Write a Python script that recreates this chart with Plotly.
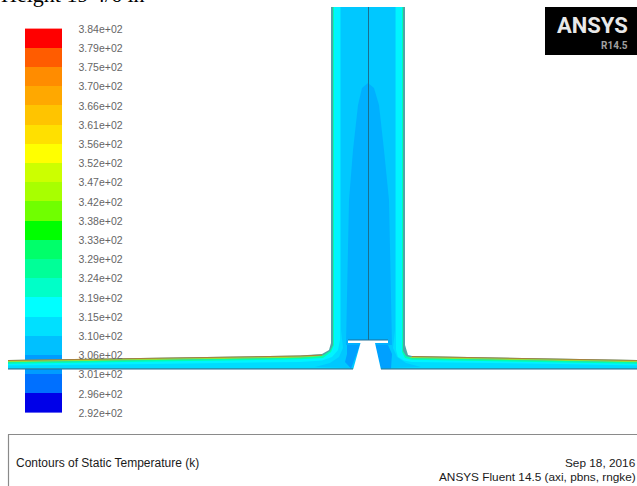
import plotly.graph_objects as go

# Colour legend
tick_labels = ["3.84e+02","3.79e+02","3.75e+02","3.70e+02","3.66e+02","3.61e+02","3.56e+02",
               "3.52e+02","3.47e+02","3.42e+02","3.38e+02","3.33e+02","3.29e+02","3.24e+02",
               "3.19e+02","3.15e+02","3.10e+02","3.06e+02","3.01e+02","2.96e+02","2.92e+02"]
band_colors = ["#ff0000","#ff5c00","#ff8c00","#ffa800","#ffc400","#ffe000","#ffff00","#ccff00",
               "#a8ff00","#70ff00","#00ff00","#00ff6a","#00ff98","#00ffc8","#00ffff","#00e0ff",
               "#00c0ff","#009cff","#0070ff","#0000e8"]
band_index = list(range(20))
band_edges = [28.6 + 19.2 * i for i in range(21)]

# Contour regions
regions = [
 ("#4fa5a8",
  [331,331,329,322,300,150,8,8,353,381,637,637,560,412,408,405,405],
  [7,343,350,354,355.5,358,360,369,369,369,369,360,358.5,356,355,345,7]),
 ("#a8803a",
  [8,150,300,322,322,300,150,8], [360,358,355.5,354.5,355.8,356.8,359.3,361.3]),
 ("#a8803a",
  [412,560,637,637,560,412], [356,358.5,360,361.3,359.8,357.3]),
 ("#8fe040",
  [8,150,300,326,326,300,150,8], [361,359,356.5,355.5,357,357.8,360.3,362.3]),
 ("#8fe040",
  [409,560,637,637,560,409], [357,359.5,361,362.3,360.8,358.3]),
 ("#00ffb0",
  [333,333,330,322,300,150,8,8,637,637,560,412,406,403,403],
  [7,345,351,356,357.8,360.3,362.3,368,368,362.3,360.8,358.3,356,351,7]),
 ("#00f4ff",
  [334,334,331,323,300,150,8,8,637,637,560,412,405,402,402],
  [7,345,352,358,359.3,361.8,363.8,368.3,368.3,363.8,362.3,359.8,358,352,7]),
 ("#00dcff",
  [340,340,338,332,322,300,150,8,8,637,637,560,412,404,398,396,396],
  [7,340,350,357,360.5,362,364,365.5,368.3,368.3,365.5,364,362,360.5,357,350,7]),
 ("#00c8ff",
  [341,341,343,339,330,315,353,381,421,406,397,393,395,395],
  [7,330,348,357,363,367,368.3,368.3,367,363,357,348,330,7]),
 ("#00b0ff",
  [346,349,353,358,362,368,374,379,384,389,392],
  [345,200,150,105,88,83,88,105,150,200,345]),
 ("#00a0ff",
  [347,347,345,351,360,348],
  [345,354,362,368.5,345,345]),
 ("#00a0ff",
  [375,388,392,391,381],
  [345,345,354,368.5,368.5]),
 ("#ffffff",
  [353,360.5,348,348,388,388,375,381],
  [370,343,343,340,340,343,343,370]),
]

bottom_edge_x = [8, 353, None, 381, 637]
bottom_edge_y = [369, 369, None, 369, 369]
centre_x = [368.5, 368.5]
centre_y = [7, 340]
slot_edge_x = [348, 388]
slot_edge_y = [340, 340]

fig = go.Figure()
for color, xs, ys in regions:
    fig.add_trace(go.Scatter(x=xs, y=ys, mode="lines", fill="toself", fillcolor=color,
                             line=dict(width=0), hoverinfo="skip", showlegend=False))
fig.add_trace(go.Scatter(x=bottom_edge_x, y=bottom_edge_y, mode="lines",
                         line=dict(color="#1f6f96", width=1.2), showlegend=False))
fig.add_trace(go.Scatter(x=centre_x, y=centre_y, mode="lines",
                         line=dict(color="#1a6f90", width=1), showlegend=False))
fig.add_trace(go.Scatter(x=slot_edge_x, y=slot_edge_y, mode="lines",
                         line=dict(color="#1f6f96", width=1), showlegend=False))

n = len(band_colors)
scale = []
for i, c in enumerate(band_colors):
    scale += [[i / n, c], [(i + 1) / n, c]]
fig.add_trace(go.Heatmap(x=[25, 62], y=band_edges, z=[[i] for i in band_index],
                         colorscale=scale, zmin=-0.5, zmax=n - 0.5, showscale=False,
                         hoverinfo="skip"))
fig.add_trace(go.Scatter(x=[78.5] * len(tick_labels), y=[v + 1.5 for v in band_edges], mode="text",
                         text=tick_labels, textposition="middle right",
                         textfont=dict(family="Liberation Sans", size=10.5, color="#666666"),
                         showlegend=False))

shapes = [
 dict(type="rect", x0=545, x1=637, y0=7, y1=55, fillcolor="#000000", line_width=0, layer="above"),
 dict(type="line", x0=8, x1=637, y0=434.5, y1=434.5, line=dict(color="#8a8a8a", width=1.2)),
 dict(type="line", x0=8.5, x1=8.5, y0=434.5, y1=486, line=dict(color="#8a8a8a", width=1.2)),
]
def note(x, y, text, size, color="#222222", family="Liberation Sans", anchor="left", bold=False):
    return dict(x=x, y=y, text=f"<b>{text}</b>" if bold else text, showarrow=False, xanchor=anchor,
                yanchor="middle", borderpad=0, font=dict(family=family, size=size, color=color))

annotations = [
 note(15, 463, "Contours of Static Temperature (k)", 12, "#1a1a1a"),
 note(637, 463, "Sep 18, 2016", 11.8, "#1a1a1a", anchor="right"),
 note(637, 477, "ANSYS Fluent 14.5 (axi, pbns, rngke)", 11.8, "#1a1a1a", anchor="right"),
 note(629, 25, "ANSYS", 22, "#e8e8e8", family="Roboto", anchor="right", bold=True),
 note(629, 45, "R14.5", 10, "#a0a0a0", family="Roboto", anchor="right", bold=True),
 dict(xref="paper", yref="paper", x=0, y=1, xanchor="left", yanchor="bottom", yshift=-8,
      borderpad=0, showarrow=False, text="Height 19 4/6 in",
      font=dict(family="Liberation Serif", size=22, color="#000000")),
]

fig.update_layout(width=637, height=486, margin=dict(l=0, r=0, t=0, b=0), autosize=False,
                  paper_bgcolor="white", plot_bgcolor="white", showlegend=False,
                  shapes=shapes, annotations=annotations,
                  xaxis=dict(range=[0, 637], visible=False, domain=[0, 1]),
                  yaxis=dict(range=[486, 0], visible=False, domain=[0, 1]))
fig.write_html("out.html", config=dict(displayModeBar=False),
               post_script="document.body.style.margin='0';")
